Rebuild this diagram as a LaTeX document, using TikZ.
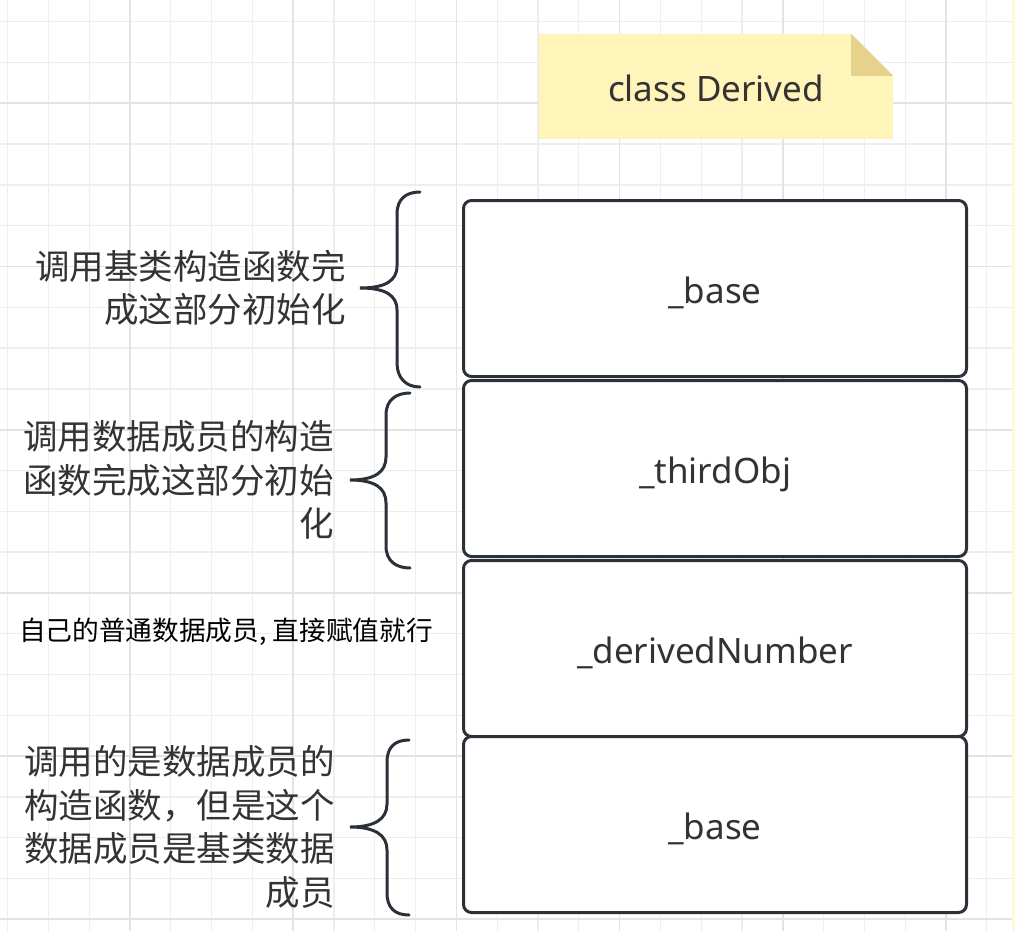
\documentclass[tikz,border=0pt]{standalone}
\usepackage{fontspec}
\setmainfont{Noto Sans}
\newfontfamily\cjk{Noto Sans CJK SC}
\usetikzlibrary{positioning}
\definecolor{inkline}{HTML}{2B3138}
\definecolor{inktext}{HTML}{333333}
\definecolor{notefill}{HTML}{FFF4B9}
\definecolor{notefold}{HTML}{E6D28C}
\definecolor{gridminor}{HTML}{EEEEEE}
\definecolor{gridmajor}{HTML}{E3E3E3}

\begin{document}
\begin{tikzpicture}[
        x=1pt, y=-1pt, % Координаты в пикселях, ось y вниз
        field/.style = {draw=inkline, line width=3pt, fill=white, rounded corners=8pt,
                minimum width=503pt, minimum height=176pt, outer sep=0pt,
                text height=31pt, text depth=1pt,
                text=inktext, font=\fontsize{35}{40}\selectfont},
        remark/.style = {minimum width=354pt, minimum height=105pt, inner sep=0pt,
                text height=31pt, text depth=1pt,
                text=inktext, font=\fontsize{35}{40}\selectfont},
        curly/.style = {draw=inkline, line width=3pt, line cap=round},
        kant/.style = {align=right, inner sep=0pt, text=inktext,
                font=\cjk\fontsize{34.5}{43.5}\selectfont}, % Подписи слева
    ]
    \useasboundingbox (0,0) rectangle (1015,931);

    % Сетка
    \begin{scope}
        \clip (0,0) rectangle (1015,931);
        \foreach \i in {0,...,24} \draw[gridminor, line width=1.3pt] ({7.6+40.8*\i},0) -- ({7.6+40.8*\i},931);
        \foreach \i in {0,...,22} \draw[gridminor, line width=1.3pt] (0,{21.7+40.8*\i}) -- (1015,{21.7+40.8*\i});
        \foreach \i in {-1,...,6} \draw[gridmajor, line width=1.7pt] ({130+163.2*\i},0) -- ({130+163.2*\i},931);
        \foreach \i in {-1,...,5} \draw[gridmajor, line width=1.7pt] (0,{103.3+163.2*\i}) -- (1015,{103.3+163.2*\i});
        \fill[notefill!60!white] (1011.5,0) rectangle (1015,931);
    \end{scope}

    % Заметка
    \node[remark] (note) at (716,86.5) {};
    \fill[notefill] (note.south west) -- (note.north west) -- ([xshift=-42pt]note.north east)
        -- ([yshift=-42pt]note.north east) -- (note.south east) -- cycle;
    \fill[notefold] ([xshift=-42pt]note.north east) -- ([yshift=-42pt]note.north east)
        -- ([xshift=-42pt, yshift=-42pt]note.north east) -- cycle;
    \node[remark] at (note) {class Derived};

    % Поля объекта
    \node[field] (base) at (715,288.5) {\_base};
    \node[field, below=4pt of base] (third) {\_thirdObj};
    \node[field, below=4pt of third] (number) {\_derivedNumber};
    \node[field, below=0pt of number] (inner) {\_base};

    % Фигурные скобки
    \draw[curly] (420,192) .. controls (406,192) and (397,199) .. (397,214) -- (397,266)
        .. controls (397,281) and (385,288) .. (360,288) coordinate (tip1)
        .. controls (385,288) and (397,295) .. (397,310) -- (397,363)
        .. controls (397,378) and (406,387) .. (420,387);
    \draw[curly] (410,393) .. controls (396,393) and (386,400) .. (386,415) -- (386,457)
        .. controls (386,472) and (375,480) .. (350,480) coordinate (tip2)
        .. controls (375,480) and (386,488) .. (386,503) -- (386,546)
        .. controls (386,561) and (396,568) .. (410,568);
    \draw[curly] (409,740) .. controls (395,740) and (387,747) .. (387,762) -- (387,804)
        .. controls (387,819) and (375,827) .. (350,827) coordinate (tip3)
        .. controls (375,827) and (387,835) .. (387,850) -- (387,893)
        .. controls (387,908) and (395,915) .. (409,915);

    % Подписи
    \node[kant, left=14pt of tip1] (lab1) {调用基类构造函数完\\成这部分初始化};
    \node[kant, left=16pt of tip2] (lab2) {调用数据成员的构造\\函数完成这部分初始\\化};
    \node[kant, left=15pt of tip3] (lab4) {调用的是数据成员的\\构造函数，但是这个\\数据成员是基类数据\\成员};
    \node[inner sep=0pt, font=\cjk\fontsize{26.7}{32}\selectfont] (lab3) at (226,632)
        {自己的普通数据成员, 直接赋值就行};
\end{tikzpicture}
\end{document}
